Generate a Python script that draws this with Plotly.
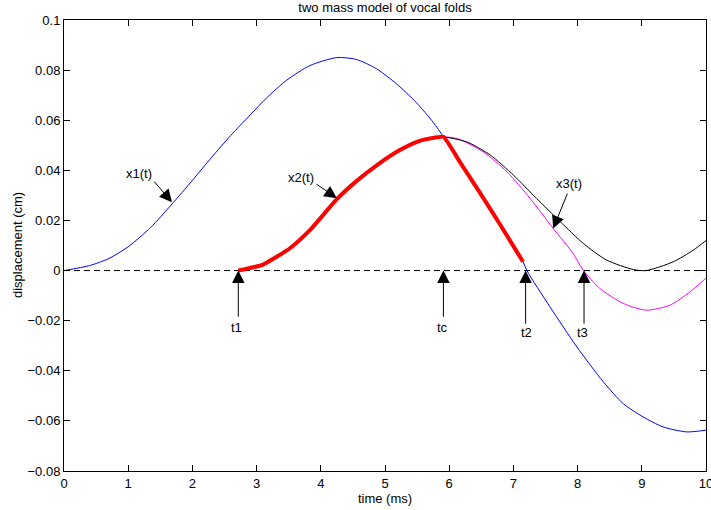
import plotly.graph_objects as go

# Upper-mass displacement x1(t)
t_x1 = [0, 0.4, 0.7, 1.0, 1.35, 1.67, 2.0, 2.3, 2.6, 2.9, 3.16, 3.47, 3.83, 4.25,
        4.56, 4.87, 5.18, 5.49, 5.75, 5.91, 6.17, 6.48, 6.79, 7.15, 7.21, 7.57,
        7.99, 8.4, 8.71, 9.02, 9.33, 9.7, 10.0]
x1 = [0, 0.0020, 0.0048, 0.0095, 0.0172, 0.0262, 0.0360, 0.0452, 0.0540, 0.0621,
      0.0690, 0.0760, 0.0818, 0.0850, 0.0842, 0.0805, 0.0745, 0.0670, 0.0592,
      0.0534, 0.0432, 0.0310, 0.0185, 0.0035, 0.0, -0.0145, -0.0305, -0.0444,
      -0.0531, -0.0584, -0.0624, -0.0644, -0.0637]

# Lower-mass displacement x2(t), from t1 up to collision time tc
t_x2 = [2.715, 3.1, 3.52, 3.83, 4.25, 4.56, 4.87, 5.23, 5.52, 5.81, 5.91]
x2 = [0.0, 0.0024, 0.0089, 0.0161, 0.0285, 0.0358, 0.0420, 0.0481, 0.0516,
      0.0532, 0.0534]

# Coupled motion after tc
t_x3a = [5.91, 6.27, 6.64, 7.0, 7.36, 7.73, 8.09, 8.45, 8.87, 9.07, 9.49, 9.8,
         10.0]
x3a = [0.0534, 0.0514, 0.0461, 0.0381, 0.0288, 0.0195, 0.0108, 0.0042, 0.0004,
       0.0, 0.0035, 0.0081, 0.0120]

t_x3 = [5.91, 6.12, 6.53, 6.9, 7.26, 7.62, 7.93, 8.09, 8.35, 8.71, 9.07, 9.44,
        9.75, 10.0]
x3 = [0.0534, 0.0527, 0.0474, 0.0394, 0.0288, 0.0168, 0.0068, 0.0, -0.0072,
      -0.0131, -0.0158, -0.0138, -0.0085, -0.0030]

# Event times
t1, tc, t2, t3 = 2.715, 5.91, 7.19, 8.10
t_red_end = 7.15

x_ticks = list(range(0, 11))
y_ticks = [-0.08, -0.06, -0.04, -0.02, 0, 0.02, 0.04, 0.06, 0.08, 0.1]
y_tick_text = ["\u22120.08", "\u22120.06", "\u22120.04", "\u22120.02", "0",
               "0.02", "0.04", "0.06", "0.08", "0.1"]

# Highlighted path: x2 until tc, then x1 down to the zero crossing
red_t = list(t_x2) + [t for t in t_x1 if tc < t <= t_red_end]
red_y = list(x2) + [v for t, v in zip(t_x1, x1) if tc < t <= t_red_end]

fig = go.Figure()
fig.add_trace(go.Scatter(x=[0, 10], y=[0, 0], mode="lines",
                         line=dict(color="black", width=1, dash="6px,4px")))
fig.add_trace(go.Scatter(x=t_x3, y=x3, mode="lines",
                         line=dict(color="#ff00ff", width=1, shape="spline",
                                   smoothing=0.7)))
fig.add_trace(go.Scatter(x=t_x3a, y=x3a, mode="lines",
                         line=dict(color="black", width=1, shape="spline",
                                   smoothing=0.7)))
fig.add_trace(go.Scatter(x=t_x1, y=x1, mode="lines",
                         line=dict(color="#0000ff", width=1, shape="spline",
                                   smoothing=0.7)))
fig.add_trace(go.Scatter(x=red_t, y=red_y, mode="lines",
                         line=dict(color="#ff0000", width=4, shape="spline",
                                   smoothing=0.5)))

font = dict(family="Liberation Sans, Arial, sans-serif", size=13, color="black")

arrows = [
    # (head x, head y, tail x, tail y)
    (1.682, 0.0273, 1.386, 0.0361),
    (4.25, 0.0289, 3.91, 0.0349),
    (7.62, 0.0168, 7.85, 0.0313),
    (t1, 0.0, t1, -0.019),
    (tc, 0.0, tc, -0.019),
    (t2, 0.0, t2, -0.0218),
    (t3, 0.0, t3, -0.0218),
]
labels = [
    ("x1(t)", 1.168, 0.0389),
    ("x2(t)", 3.69, 0.0373),
    ("x3(t)", 7.87, 0.0349),
    ("t1", 2.69, -0.0226),
    ("tc", 5.90, -0.0226),
    ("t2", 7.20, -0.0246),
    ("t3", 8.08, -0.0246),
]
annotations = []
for hx, hy, tx, ty in arrows:
    annotations.append(dict(x=hx, y=hy, ax=tx, ay=ty, xref="x", yref="y",
                            axref="x", ayref="y", text="", showarrow=True,
                            arrowhead=2, arrowsize=2.5, arrowwidth=1,
                            arrowcolor="black"))
for txt, lx, ly in labels:
    annotations.append(dict(x=lx, y=ly, xref="x", yref="y", text=txt,
                            showarrow=False, font=font,
                            xanchor="center", yanchor="middle"))

# y-axis label, rotated, left of the tick labels
annotations.append(dict(text="displacement (cm)", textangle=-90, font=font,
                        x=(17.5 - 64) / 642, xref="paper", y=0.5, yref="paper",
                        showarrow=False, xanchor="center", yanchor="middle"))

fig.update_layout(
    width=711, height=510,
    margin=dict(l=64, r=5, t=20, b=39),
    paper_bgcolor="white", plot_bgcolor="white",
    showlegend=False,
    font=font,
    title=dict(text="two mass model of vocal folds", font=font,
               x=0.5, xref="paper", y=1 - 7 / 510, yref="container",
               xanchor="center", yanchor="middle"),
    annotations=annotations,
)
fig.update_xaxes(range=[0, 10], tickvals=x_ticks, ticktext=[str(v) for v in x_ticks],
                 ticks="inside", ticklen=6, tickcolor="black", mirror="ticks",
                 showline=True, linecolor="black", linewidth=1,
                 showgrid=False, zeroline=False, tickfont=font,
                 ticklabeloverflow="allow", automargin=False,
                 title=dict(text="time (ms)", font=font, standoff=4))
fig.update_yaxes(range=[-0.08, 0.1], tickvals=y_ticks, ticktext=y_tick_text,
                 ticks="inside", ticklen=6, tickcolor="black", mirror="ticks",
                 showline=True, linecolor="black", linewidth=1,
                 showgrid=False, zeroline=False, tickfont=font, automargin=False)

fig.write_html("out.html")
